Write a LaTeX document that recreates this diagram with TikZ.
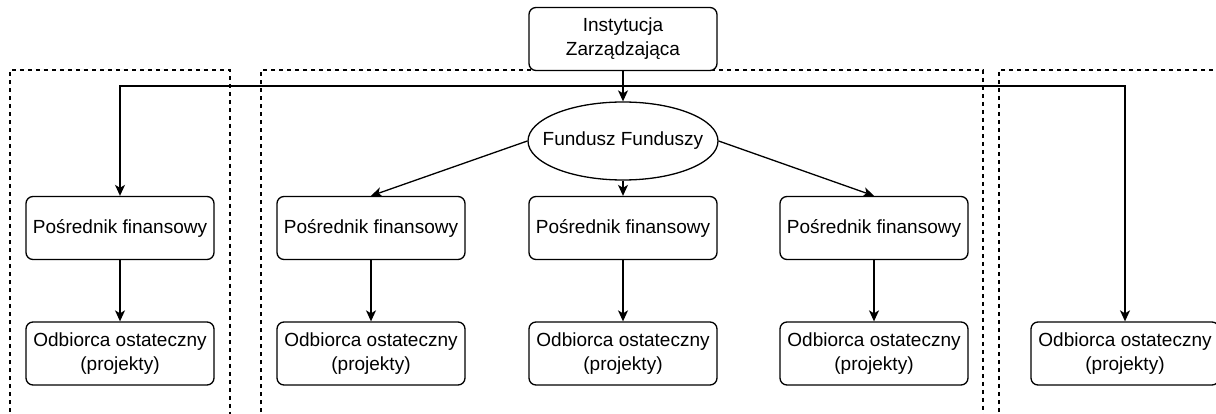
\documentclass[tikz,border=0pt]{standalone}
\usepackage{fontspec}
\setmainfont{Liberation Sans}
\usetikzlibrary{arrows.meta,shapes.geometric}
\begin{document}
\begin{tikzpicture}[x=1pt,y=-1pt,
  box/.style={draw, rounded corners=7pt, fill=white, minimum width=188pt, minimum height=63pt, inner sep=0pt, align=center, font=\fontsize{19}{24}\selectfont, line width=1.3pt},
  oval/.style={draw, ellipse, fill=white, minimum width=190pt, minimum height=78pt, inner xsep=-16pt, inner ysep=0pt, font=\fontsize{19}{24}\selectfont, line width=1.3pt},
  group/.style={draw, dash pattern=on 4pt off 4pt, line width=1.2pt},
  conn/.style={draw, line width=1.3pt, -{Stealth[length=11pt, width=10pt, inset=3pt]}}
]
\useasboundingbox (0,0) rectangle (1216,414);
\begin{scope}
\clip (0,0) rectangle (1216,414);
\draw[group] (10,420) -- (10,70) -- (230,70) -- (230,420);
\draw[group] (261,420) -- (261,70) -- (983,70) -- (983,420);
\draw[group] (999,420) -- (999,70) -- (1225,70);
\end{scope}

\node[box] (inst) at (623,39) {Instytucja\\Zarządzająca};
\node[oval] (ff) at (623,141) {Fundusz Funduszy};

\node[box] (p1) at (120,228) {Pośrednik finansowy};
\node[box] (p2) at (371,228) {Pośrednik finansowy};
\node[box] (p3) at (623,228) {Pośrednik finansowy};
\node[box] (p4) at (874,228) {Pośrednik finansowy};

\node[box] (o1) at (120,353.5) {Odbiorca ostateczny\\(projekty)};
\node[box] (o2) at (371,353.5) {Odbiorca ostateczny\\(projekty)};
\node[box] (o3) at (623,353.5) {Odbiorca ostateczny\\(projekty)};
\node[box] (o4) at (874,353.5) {Odbiorca ostateczny\\(projekty)};
\node[box] (o5) at (1125,353.5) {Odbiorca ostateczny\\(projekty)};

\coordinate (hub) at (623,86);
\draw[conn] (inst.south) -- (ff.north);
\draw[conn] (hub) -| (p1.north);
\draw[conn] (hub) -| (o5.north);

\draw[conn] (ff.west) -- (p2.north);
\draw[conn] (ff.south) -- (p3.north);
\draw[conn] (ff.east) -- (p4.north);

\draw[conn] (p1) -- (o1);
\draw[conn] (p2) -- (o2);
\draw[conn] (p3) -- (o3);
\draw[conn] (p4) -- (o4);
\end{tikzpicture}
\end{document}
